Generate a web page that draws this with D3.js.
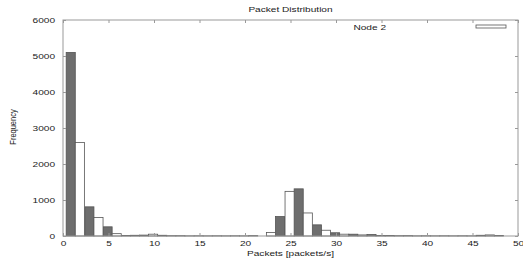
<!DOCTYPE html>
<html>
<head>
<meta charset="utf-8">
<script src="https://cdn.jsdelivr.net/npm/d3@7"></script>
<style>
  body { margin: 0; background: #fff; }
  text { font-family: "Liberation Sans", Arial, sans-serif; fill: #222; }
</style>
</head>
<body>
<div id="chart"></div>
<script>
// Set up dimensions
const width = 523;
const height = 260;
const margin = { top: 20, right: 5, bottom: 24, left: 63 };
const stretch = 1.35; // the original text looks squashed wide

// Data
const node1Centers = [0.85, 2.9, 4.9, 6.9, 8.9, 10.9, 12.9, 14.9, 16.9, 18.9, 20.9, 23.85, 25.9, 27.9, 29.9, 31.9, 33.9, 35.9, 37.9, 39.9, 41.9, 43.9, 45.9, 47.9];
const node1Counts = [5100, 810, 255, 15, 25, 20, 8, 5, 5, 5, 10, 540, 1310, 310, 90, 50, 40, 12, 10, 5, 5, 5, 20, 15];
const node2Centers = [1.85, 3.9, 5.9, 7.9, 9.9, 11.9, 13.9, 15.9, 17.9, 19.9, 22.85, 24.9, 26.9, 28.9, 30.9, 32.9, 34.9, 36.9, 38.9, 40.9, 42.9, 44.9, 46.9];
const node2Counts = [2600, 515, 65, 20, 50, 10, 5, 5, 5, 5, 100, 1240, 640, 160, 50, 30, 15, 10, 5, 5, 5, 5, 30];
const xTicks = [0, 5, 10, 15, 20, 25, 30, 35, 40, 45, 50];
const yTicks = [0, 1000, 2000, 3000, 4000, 5000, 6000];

const svg = d3.select('#chart')
    .append('svg')
    .attr('width', width)
    .attr('height', height);

const x = d3.scaleLinear().domain([0, 50]).range([margin.left, width - margin.right]);
const y = d3.scaleLinear().domain([0, 6000]).range([height - margin.bottom, margin.top]);
const barW = x(1) - x(0);

// Bars
const bars = svg.append('g');
bars.selectAll('rect.n1')
    .data(node1Centers.map((c, i) => ({ c, v: node1Counts[i] })))
    .enter().append('rect')
    .attr('class', 'n1')
    .attr('x', d => x(d.c) - barW / 2)
    .attr('y', d => y(d.v))
    .attr('width', barW)
    .attr('height', d => y(0) - y(d.v))
    .style('fill', '#6e6e6e')
    .style('stroke', '#555')
    .style('stroke-width', 0.8);

bars.selectAll('rect.n2')
    .data(node2Centers.map((c, i) => ({ c, v: node2Counts[i] })))
    .enter().append('rect')
    .attr('class', 'n2')
    .attr('x', d => x(d.c) - barW / 2)
    .attr('y', d => y(d.v))
    .attr('width', barW)
    .attr('height', d => y(0) - y(d.v))
    .style('fill', '#fff')
    .style('stroke', '#555')
    .style('stroke-width', 0.8);

// Axes (gnuplot style: inward ticks, mirrored)
const axisColor = '#999';
function styleAxis(g) {
    g.select('.domain').remove();
    g.selectAll('.tick line').attr('stroke', axisColor);
    g.selectAll('.tick text')
        .style('font-size', '7.5px')
        .attr('fill', '#111')
        .attr('transform', `scale(${stretch},1)`);
}
svg.append('g')
    .attr('transform', `translate(0,${y(0)})`)
    .call(d3.axisBottom(x).tickValues(xTicks).tickSizeInner(-3).tickSizeOuter(0).tickPadding(5))
    .call(styleAxis);
svg.append('g')
    .attr('transform', `translate(0,${y(6000)})`)
    .call(d3.axisTop(x).tickValues(xTicks).tickSizeInner(-3).tickSizeOuter(0).tickFormat(''))
    .call(styleAxis);
svg.append('g')
    .attr('transform', `translate(${x(0)},0)`)
    .call(d3.axisLeft(y).tickValues(yTicks).tickFormat(d3.format('d')).tickSizeInner(-3).tickSizeOuter(0))
    .call(styleAxis)
    .call(g => g.selectAll('.tick text').attr('x', -8 / stretch));
svg.append('g')
    .attr('transform', `translate(${x(50)},0)`)
    .call(d3.axisRight(y).tickValues(yTicks).tickSizeInner(-3).tickSizeOuter(0).tickFormat(''))
    .call(styleAxis);

// Frame
svg.append('rect')
    .attr('x', x(0))
    .attr('y', y(6000))
    .attr('width', x(50) - x(0))
    .attr('height', y(0) - y(6000))
    .style('fill', 'none')
    .style('stroke', axisColor)
    .style('stroke-width', 1);

// Title and labels
function label(px, py, anchor, txt) {
    svg.append('text')
        .attr('transform', `translate(${px},${py}) scale(${stretch},1)`)
        .attr('text-anchor', anchor)
        .style('font-size', '7.5px')
        .attr('fill', '#111')
        .text(txt);
}
label((x(0) + x(50)) / 2, 12, 'middle', 'Packet Distribution');
label((x(0) + x(50)) / 2, 256, 'middle', 'Packets [packets/s]');
label(386, 30, 'end', 'Node 2');

svg.append('text')
    .attr('transform', 'translate(16,127) rotate(-90) scale(1,1.2)')
    .attr('text-anchor', 'middle')
    .style('font-size', '7.5px')
    .attr('fill', '#111')
    .text('Frequency');

// Legend key
svg.append('rect')
    .attr('x', 476)
    .attr('y', 25)
    .attr('width', 30)
    .attr('height', 3)
    .style('fill', '#fff')
    .style('stroke', '#555')
    .style('stroke-width', 0.8);
</script>
</body>
</html>
